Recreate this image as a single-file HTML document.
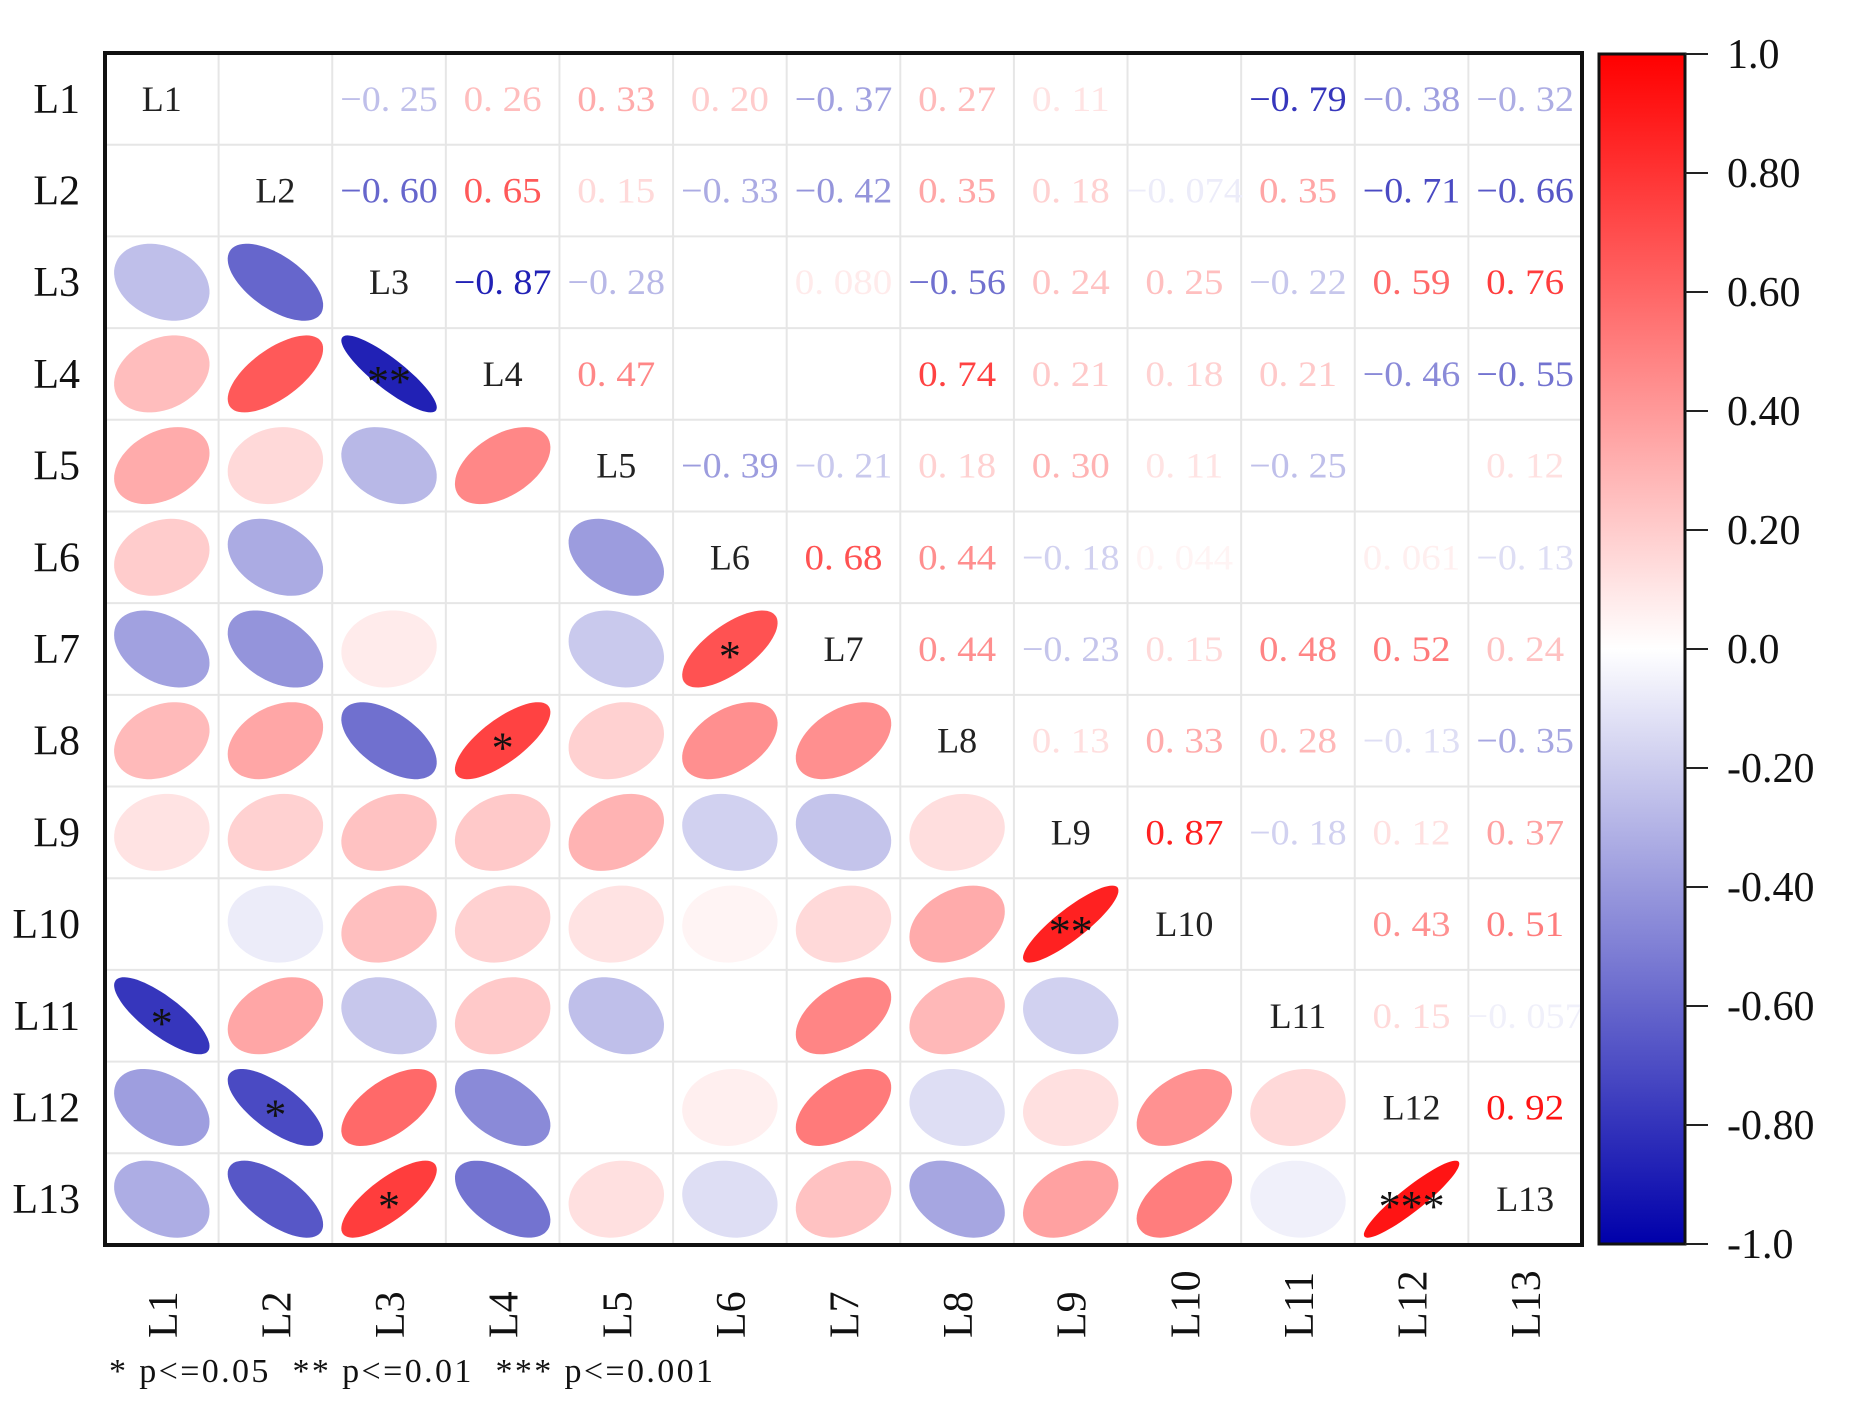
<!DOCTYPE html>
<html><head><meta charset="utf-8"><style>
html,body{margin:0;padding:0;background:#fff;}
svg{display:block;font-family:"Liberation Serif","Noto Serif CJK SC",serif;}
</style></head><body>
<svg id="chart" width="1854" height="1413" viewBox="0 0 1854 1413" xmlns="http://www.w3.org/2000/svg">
<defs><linearGradient id="cbgrad" x1="0" y1="0" x2="0" y2="1"></linearGradient></defs>
<g id="grid"></g><g id="marks"></g><g id="labels"></g><g id="cbar"></g>
<text x="109" y="1382" font-size="34" fill="#111" textLength="604" lengthAdjust="spacing" xml:space="preserve">* p&lt;=0.05  ** p&lt;=0.01  *** p&lt;=0.001</text>
</svg>
<script>
const categories=["L1","L2","L3","L4","L5","L6","L7","L8","L9","L10","L11","L12","L13"];
// upper-triangle correlations, row i, columns i+1..12 (0 = blank/near zero)
const row1=[0,-0.25,0.26,0.33,0.20,-0.37,0.27,0.11,0,-0.79,-0.38,-0.32];
const row2=[-0.60,0.65,0.15,-0.33,-0.42,0.35,0.18,-0.074,0.35,-0.71,-0.66];
const row3=[-0.87,-0.28,0,0.080,-0.56,0.24,0.25,-0.22,0.59,0.76];
const row4=[0.47,0,0,0.74,0.21,0.18,0.21,-0.46,-0.55];
const row5=[-0.39,-0.21,0.18,0.30,0.11,-0.25,0,0.12];
const row6=[0.68,0.44,-0.18,0.044,0,0.061,-0.13];
const row7=[0.44,-0.23,0.15,0.48,0.52,0.24];
const row8=[0.13,0.33,0.28,-0.13,-0.35];
const row9=[0.87,-0.18,0.12,0.37];
const row10=[0,0.43,0.51];
const row11=[0.15,-0.057];
const row12=[0.92];
const rows=[row1,row2,row3,row4,row5,row6,row7,row8,row9,row10,row11,row12];
// significance stars: [row, col, stars] in lower triangle
const stars=[[3,2,"**"],[6,5,"*"],[7,3,"*"],[9,8,"**"],[10,0,"*"],[11,1,"*"],[12,2,"*"],[12,11,"***"]];
const cbTicks=[1.0,0.8,0.6,0.4,0.2,0.0,-0.2,-0.4,-0.6,-0.8,-1.0];
const cbTickLabels=["1.0","0.80","0.60","0.40","0.20","0.0","-0.20","-0.40","-0.60","-0.80","-1.0"];

const NS="http://www.w3.org/2000/svg";
const L=105,T=53,R=1582,B=1245,n=categories.length;
const cw=(R-L)/n,ch=(B-T)/n;
const cx=j=>L+cw*(j+0.5), cy=i=>T+ch*(i+0.5);
function mk(tag,attrs,parent){const e=document.createElementNS(NS,tag);for(const k in attrs)e.setAttribute(k,attrs[k]);parent.appendChild(e);return e;}
function color(r){r=Math.max(-1,Math.min(1,r));
 if(r>=0){const v=Math.round(255*(1-r));return `rgb(255,${v},${v})`;}
 const a=-r;return `rgb(${Math.round(255*(1-a))},${Math.round(255*(1-a))},${Math.round(255-85*a)})`;}
function val(i,j){if(i===j)return 1;const a=Math.min(i,j),b=Math.max(i,j);return rows[a][b-a-1];}
function fmt(v){const a=Math.abs(v);let s=(a<0.1&&a>0)?a.toPrecision(2):a.toFixed(2);
 return (v<0?"\u2212":"")+s.replace(".",". ");}

const grid=document.getElementById('grid'),marks=document.getElementById('marks'),labels=document.getElementById('labels'),cbar=document.getElementById('cbar');
for(let k=1;k<n;k++){
 let l=mk('line',{x1:L+cw*k,y1:T,x2:L+cw*k,y2:B,stroke:'#e6e6e6','stroke-width':2},grid);
 
 
 l=mk('line',{x1:L,y1:T+ch*k,x2:R,y2:T+ch*k,stroke:'#e6e6e6','stroke-width':2},grid);
 
 
}
for(let i=0;i<n;i++){
 for(let j=0;j<n;j++){
  if(i===j){
   const t=mk('text',{x:cx(j),y:cy(i)+12,'font-size':36,'text-anchor':'middle',fill:'#222'},labels);t.textContent=categories[i];
   
   
  } else if(j>i){
   const v=val(i,j),s=fmt(v);
   const t=mk('text',{x:cx(j),y:cy(i)+12,'font-size':36,'text-anchor':'middle',fill:color(v),textLength:19.5*s.replace(' ','').length,lengthAdjust:'spacingAndGlyphs'},labels);
   t.textContent=s;
   
   
  } else {
   const r=val(i,j),d=Math.acos(Math.max(-1,Math.min(1,r)));
   const sx=cw*0.42,sy=ch*0.42;let pts=[];
   for(let k=0;k<72;k++){const t=k/72*2*Math.PI;pts.push((cx(j)+sx*Math.cos(t+d/2)).toFixed(1)+","+(cy(i)-sy*Math.cos(t-d/2)).toFixed(1));}
   const p=mk('polygon',{points:pts.join(" "),fill:color(r)},marks);
   
   
  }
 }
}
stars.forEach(s=>{const t=mk('text',{x:cx(s[1]),y:cy(s[0])+22,'font-size':44,'text-anchor':'middle',fill:'#111'},labels);t.textContent=s[2];
 
 });
const fr=mk('rect',{x:L,y:T,width:R-L,height:B-T,fill:'none',stroke:'#111','stroke-width':4},labels);


categories.forEach((c,i)=>{
 let t=mk('text',{x:80,y:cy(i)+14,'font-size':42,'text-anchor':'end',fill:'#111'},labels);t.textContent=c;
 
 
 t=mk('text',{x:0,y:0,'font-size':42,'text-anchor':'start',fill:'#111',transform:`translate(${cx(i)+15},1338) rotate(-90)`},labels);t.textContent=c;
 
 
});
// colorbar
const cbL=1599,cbR=1685,cbT=54,cbB=1244;
const g=document.getElementById('cbgrad');
for(let k=0;k<=20;k++){const v=1-k/10;mk('stop',{offset:(k/20),'stop-color':color(v)},g);}
const cb=mk('rect',{x:cbL,y:cbT,width:cbR-cbL,height:cbB-cbT,fill:'url(#cbgrad)',stroke:'#111','stroke-width':3},cbar);


const cby=v=>cbT+(1-v)/2*(cbB-cbT);
cbTicks.forEach((v,k)=>{
 const l=mk('line',{x1:cbR,y1:cby(v),x2:1708,y2:cby(v),stroke:'#222','stroke-width':2},cbar);
 
 
 const t=mk('text',{x:1727,y:cby(v)+14,'font-size':42,fill:'#111'},cbar);t.textContent=cbTickLabels[k];
 
 
});
</script>
</body></html>
